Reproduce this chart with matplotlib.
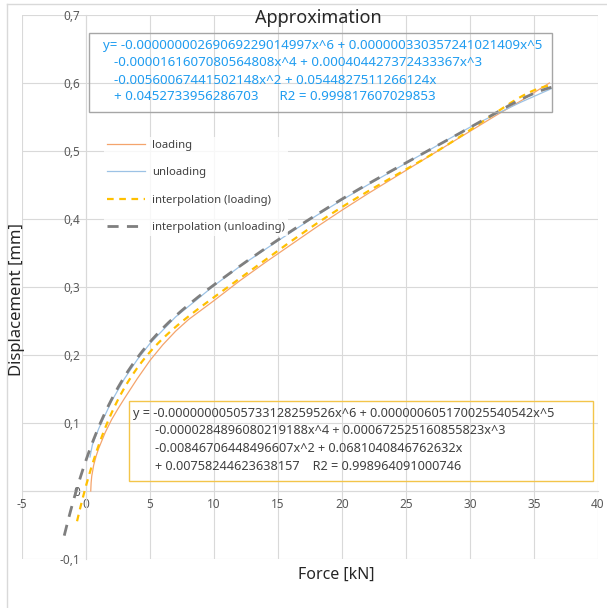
import numpy as np
import matplotlib
matplotlib.use("Agg")
import matplotlib.pyplot as plt
from matplotlib.patches import Rectangle
from matplotlib.lines import Line2D

plt.rcParams['font.family'] = ['Noto Sans', 'DejaVu Sans']

load_x = [0.37, 0.40, 0.45, 0.6, 0.8, 1.0, 1.5, 2.0, 2.5, 3.0, 4.0, 5.0, 6.0, 7.0, 8.0, 9.0,
          10, 12, 14, 16, 18, 20, 22, 24, 26, 28, 30, 32, 34, 36.2]
load_y = [0.0, 0.012, 0.022, 0.038, 0.052, 0.063, 0.086, 0.105, 0.121, 0.136, 0.165, 0.192,
          0.215, 0.235, 0.252, 0.266, 0.280, 0.309, 0.336, 0.362, 0.388, 0.413, 0.437, 0.460,
          0.483, 0.506, 0.529, 0.552, 0.574, 0.600]

unload_x = [0.31, 0.5, 1.0, 2.0, 3.0, 4.0, 5.0, 7.0, 10, 12, 15, 18, 20, 22, 25, 28, 30, 32, 34, 36.4]
unload_y = [0.050, 0.068, 0.092, 0.132, 0.165, 0.193, 0.217, 0.256, 0.302, 0.330, 0.368, 0.405,
            0.428, 0.450, 0.482, 0.514, 0.535, 0.554, 0.572, 0.592]

# trendline coefficients as printed on the chart (x^6 ... x^0)
coef_load = [-0.00000000505733128259526, 0.000000605170025540542, -0.0000284896080219188,
             0.000672525160855823, -0.00846706448496607, 0.0681040846762632, 0.00758244623638157]
coef_unload = [-0.00000000269069229014997, 0.000000330357241021409, -0.0000161607080564808,
               0.000404427372433367, -0.00560067441502148, 0.0544827511266124, 0.0452733956286703]
trend_load_range = (-0.7, 36.2)
trend_unload_range = (-1.7, 36.4)

eq_unload = ["y= -0.00000000269069229014997x^6 + 0.000000330357241021409x^5",
             "-0.0000161607080564808x^4 + 0.000404427372433367x^3",
             "-0.00560067441502148x^2 + 0.0544827511266124x",
             "+ 0.0452733956286703      R2 = 0.999817607029853"]
eq_load = ["y = -0.00000000505733128259526x^6 + 0.000000605170025540542x^5",
           "-0.0000284896080219188x^4 + 0.000672525160855823x^3",
           "-0.00846706448496607x^2 + 0.0681040846762632x",
           "+ 0.00758244623638157    R2 = 0.998964091000746"]

xticks = list(range(-5, 41, 5))
yticks = [-0.1, 0, 0.1, 0.2, 0.3, 0.4, 0.5, 0.6, 0.7]
ylabels = ['-0,1', '0', '0,1', '0,2', '0,3', '0,4', '0,5', '0,6', '0,7']

W, H = 607, 608
def fx(px):
    return px / W
def fy(py):
    return 1 - py / H

fig = plt.figure(figsize=(W / 100, H / 100), dpi=100)
ax = fig.add_axes([fx(22), fy(559), (598 - 22) / W, (559 - 15) / H])

ax.plot(load_x, load_y, color='#f4a46c', lw=0.9, label='loading', zorder=3)
ax.plot(unload_x, unload_y, color='#9cc2e5', lw=0.9, label='unloading', zorder=3)
xl = np.linspace(*trend_load_range, 300)
ax.plot(xl, np.polyval(coef_load, xl), color='#ffc000', lw=1.6, ls=(0, (3, 2.5)),
        label='interpolation (loading)', zorder=4)
xu = np.linspace(*trend_unload_range, 300)
ax.plot(xu, np.polyval(coef_unload, xu), color='#7f7f7f', lw=2.0, ls=(0, (4, 3)),
        label='interpolation (unloading)', zorder=5)

ax.set_xlim(-5, 40)
ax.set_ylim(-0.1, 0.7)
ax.set_xticks(xticks)
ax.set_xticklabels([str(t) for t in xticks])
ax.set_yticks(yticks)
ax.set_yticklabels(ylabels)
ax.grid(True, color='#d9d9d9', lw=0.8)
ax.set_axisbelow(True)
for s in ['top', 'right']:
    ax.spines[s].set_visible(False)
ax.spines['left'].set_position(('data', 0))
ax.spines['bottom'].set_position(('data', 0))
for s in ['left', 'bottom']:
    ax.spines[s].set_color('#d9d9d9')
    ax.spines[s].set_linewidth(0.8)
ax.tick_params(axis='both', length=0, labelsize=8.5, labelcolor='#595959')
ax.tick_params(axis='x', pad=5)
ax.tick_params(axis='y', pad=4)

leg = ax.legend(loc='upper left', bbox_to_anchor=(fx(98), fy(131)), bbox_transform=fig.transFigure,
                fontsize=8.1, labelspacing=1.45, handlelength=3.4, handletextpad=0.6,
                frameon=True, facecolor='white', edgecolor='none', fancybox=False, borderpad=0.3)
for t in leg.get_texts():
    t.set_color('#404040')

fig.text(fx(318), fy(18), 'Approximation', ha='center', va='center', fontsize=13, color='#262626')
fig.text(fx(17), fy(300), 'Displacement [mm]', rotation=90, ha='center', va='center',
         fontsize=12, color='#262626')
fig.text(fx(336), fy(575), 'Force [kN]', ha='center', va='center', fontsize=11.5, color='#262626')

# equation boxes
fig.add_artist(Rectangle((fx(89), fy(112)), (552 - 89) / W, (112 - 33) / H, transform=fig.transFigure,
                         fill=False, ec='#a6a6a6', lw=1.0, zorder=6))
for i, (line, py) in enumerate(zip(eq_unload, [46, 63, 80, 96])):
    fig.text(fx(103 if i == 0 else 114), fy(py), line, ha='left', va='center', fontsize=9.6,
             color='#1f9cf0', zorder=7)

fig.add_artist(Rectangle((fx(129), fy(481)), (593 - 129) / W, (481 - 401) / H, transform=fig.transFigure,
                         fill=False, ec='#f3c54a', lw=1.0, zorder=6))
for i, (line, py) in enumerate(zip(eq_load, [414, 431, 449, 466])):
    fig.text(fx(133 if i == 0 else 155), fy(py), line, ha='left', va='center', fontsize=9.15,
             color='#404040', zorder=7)

# chart area border
fig.add_artist(Line2D([fx(7), fx(7)], [0, fy(4)], transform=fig.transFigure, color='#d9d9d9', lw=1))
fig.add_artist(Line2D([fx(7), 1], [fy(4), fy(4)], transform=fig.transFigure, color='#d9d9d9', lw=1))

fig.savefig('out.png', dpi=100)
